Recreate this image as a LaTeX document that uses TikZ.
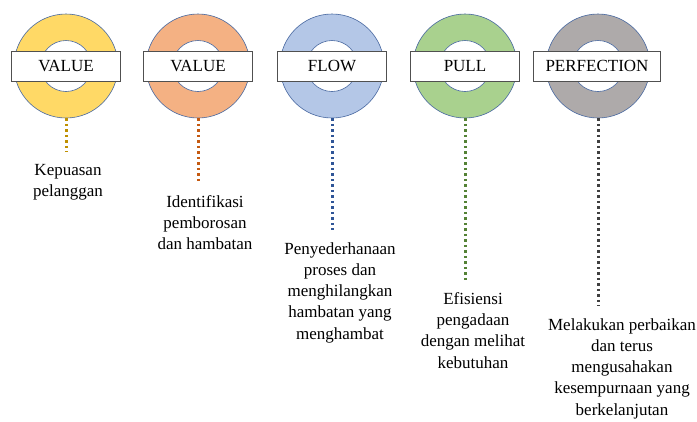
\documentclass[tikz,border=0pt]{standalone}
\usepackage{fontspec}
\setmainfont{Liberation Serif}
\usetikzlibrary{positioning}
\definecolor{ringgold}{RGB}{255,217,102}
\definecolor{ringorange}{RGB}{244,177,131}
\definecolor{ringblue}{RGB}{180,199,231}
\definecolor{ringgreen}{RGB}{169,209,142}
\definecolor{ringgray}{RGB}{174,170,170}
\definecolor{ringline}{RGB}{72,104,160}
\definecolor{boxline}{RGB}{80,80,80}
\definecolor{dotgold}{RGB}{191,144,0}
\definecolor{dotorange}{RGB}{197,90,17}
\definecolor{dotblue}{RGB}{47,85,151}
\definecolor{dotgreen}{RGB}{84,130,53}
\definecolor{dotgray}{RGB}{64,64,64}

\begin{document}
\begin{tikzpicture}[
    x=1pt, y=-1pt,
    ring/.style={circle, draw=ringline, line width=0.6pt, minimum size=104pt, inner sep=0pt},
    hole/.style={circle, draw=ringline, line width=0.6pt, fill=white, minimum size=51pt, inner sep=0pt},
    label/.style={rectangle, draw=boxline, line width=1pt, fill=white, minimum width=109pt,
                  minimum height=30pt, inner sep=0pt, font=\fontsize{17}{20}\selectfont},
    desc/.style={anchor=north, align=center, inner xsep=0pt, inner ysep=12pt,
                 font=\fontsize{17}{21.3}\selectfont},
    dotline/.style={line width=3pt, dash pattern=on 2.5pt off 3pt}
]
    \useasboundingbox (0,0) rectangle (697,421);

    % rings
    \node[ring, fill=ringgold]   (r1) at (66,66)  {};
    \node[ring, fill=ringorange] (r2) at (198,66) {};
    \node[ring, fill=ringblue]   (r3) at (332,66) {};
    \node[ring, fill=ringgreen]  (r4) at (465,66) {};
    \node[ring, fill=ringgray]   (r5) at (598,66) {};
    \node[hole] at (r1) {};
    \node[hole] at (r2) {};
    \node[hole] at (r3) {};
    \node[hole] at (r4) {};
    \node[hole] at (r5) {};

    % labels
    \node[label] (b1) at (r1) {VALUE};
    \node[label] (b2) at (r2) {VALUE};
    \node[label] (b3) at (r3) {FLOW};
    \node[label] (b4) at (r4) {PULL};
    \node[label, minimum width=127pt] (b5) at (597,66) {PERFECTION};

    % descriptions
    \node[desc] (t1) at (68,152)  {Kepuasan\\pelanggan};
    \node[desc] (t2) at (205,183) {Identifikasi\\pemborosan\\dan hambatan};
    \node[desc] (t3) at (340,230) {Penyederhanaan\\proses dan\\menghilangkan\\hambatan yang\\menghambat};
    \node[desc] (t4) at (473,280) {Efisiensi\\pengadaan\\dengan melihat\\kebutuhan};
    \node[desc] (t5) at (622,306) {Melakukan perbaikan\\dan terus\\mengusahakan\\kesempurnaan yang\\berkelanjutan};

    \draw[dotline, dotgold]   (r1.south) -- (r1.south |- t1.north);
    \draw[dotline, dotorange] (r2.south) -- (r2.south |- t2.north);
    \draw[dotline, dotblue]   (r3.south) -- (r3.south |- t3.north);
    \draw[dotline, dotgreen]  (r4.south) -- (r4.south |- t4.north);
    \draw[dotline, dotgray]   (r5.south) -- (r5.south |- t5.north);
\end{tikzpicture}
\end{document}
